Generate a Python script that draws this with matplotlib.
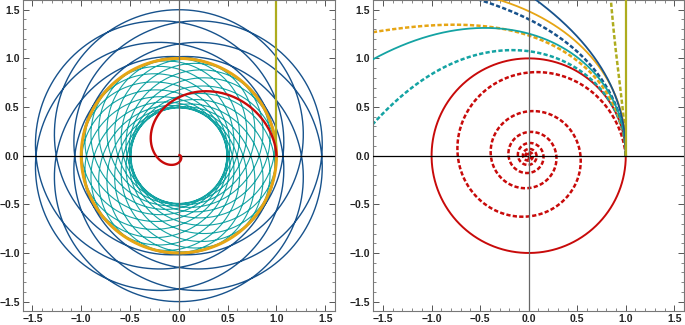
import numpy as np
import matplotlib.pyplot as plt
from matplotlib.ticker import MultipleLocator

plt.rcParams['font.family'] = ['Liberation Sans', 'DejaVu Sans']

# colours
c_blue = '#17528c'
c_orange = '#e6a514'
c_teal = '#14a3a3'
c_red = '#c80a0a'
c_olive = '#aeac1e'

# left panel: orbit parameters
# precessing conic r = p / (1 + e*cos(k*theta)), run over n revolutions
blue_orbit = dict(p=1.2, e=0.2, k=6/7, turns=7)            # r from 1.0 to 1.5
teal_orbit = dict(p=0.658, e=-0.342, k=19/20, turns=20)    # r from 1.0 down to 0.49
circle_r = 1.0
# infalling spiral r = exp(-a*theta**b)
red_spiral = dict(a=0.26, b=1.5, th_end=7.0)
olive_line_x = [1.0, 1.0]
olive_line_y = [0.0, 1.6]

# right panel: escaping paths 1/r = 1 - c*theta**n, all leaving (1, 0)
# (name, colour, c, n, dotted)
paths = [
    ('teal dotted',   c_teal,   0.0198, 2.76, True),
    ('orange dotted', c_orange, 0.0717, 2.17, True),
    ('teal',          c_teal,   0.095,  1.68, False),
    ('blue dotted',   c_blue,   0.120,  1.93, True),
    ('orange',        c_orange, 0.167,  1.486, False),
    ('blue',          c_blue,   0.183,  1.71, False),
    ('olive dotted',  c_olive,  0.378,  2.09, True),
]
red_log_spiral = dict(b=0.1, th_end=45.0)

ticks_major = [-1.5, -1.0, -0.5, 0.0, 0.5, 1.0, 1.5]
lim = 1.6

dot = (0, (1.7, 0.9))

fig = plt.figure(figsize=(6.85, 3.25), dpi=100)
ax1 = fig.add_axes([0.0331, 0.042, 0.456, 0.958])
ax2 = fig.add_axes([0.5450, 0.042, 0.4536, 0.958])


def conic(o):
    th = np.linspace(0, 2*np.pi*o['turns'], 1200*o['turns'])
    r = o['p']/(1 + o['e']*np.cos(o['k']*th))
    return r*np.cos(th), r*np.sin(th)

# ---- left
x, y = conic(blue_orbit)
ax1.plot(x, y, c=c_blue, lw=1.0, zorder=2)
x, y = conic(teal_orbit)
ax1.plot(x, y, c=c_teal, lw=0.8, zorder=2.1)
t = np.linspace(0, 2*np.pi, 400)
ax1.plot(circle_r*np.cos(t), circle_r*np.sin(t), c=c_orange, lw=2.2, zorder=2.2)
ax1.plot(olive_line_x, olive_line_y, c=c_olive, lw=1.6, zorder=2.3)
t = np.linspace(0, red_spiral['th_end'], 800)
r = np.exp(-red_spiral['a']*t**red_spiral['b'])
ax1.plot(r*np.cos(t), r*np.sin(t), c=c_red, lw=1.7, zorder=4)

# ---- right
t = np.linspace(0, 2*np.pi, 400)
ax2.plot(np.cos(t), np.sin(t), c=c_red, lw=1.4, zorder=2)
t = np.linspace(0, red_log_spiral['th_end'], 6000)
r = np.exp(-red_log_spiral['b']*t)
ax2.plot(r*np.cos(t), r*np.sin(t), c=c_red, lw=1.8, ls=dot, dash_capstyle='butt', zorder=2)
for name, col, c, n, dotted in paths:
    tmax = (0.999/c)**(1/n)
    t = np.linspace(0, tmax, 3000)
    u = 1 - c*t**n
    r = 1/u
    m = r < 4
    xs, ys = r[m]*np.cos(t[m]), r[m]*np.sin(t[m])
    if dotted:
        ax2.plot(xs, ys, c=col, lw=1.8, ls=dot, dash_capstyle='butt', zorder=2.5)
    else:
        ax2.plot(xs, ys, c=col, lw=1.3, zorder=2.6)
ax2.plot(olive_line_x, olive_line_y, c=c_olive, lw=1.6, zorder=3)

labels = [f'{v:.1f}'.replace('-', '\u2212') for v in ticks_major]
for ax in (ax1, ax2):
    ax.set_xlim(-lim, lim)
    ax.set_ylim(-lim, lim)
    ax.axhline(0, c='k', lw=0.9, zorder=3)
    ax.axvline(0, c='#666666', lw=0.9, zorder=3)
    ax.set_xticks(ticks_major)
    ax.set_yticks(ticks_major)
    ax.set_xticklabels(labels, fontweight='bold')
    ax.set_yticklabels(labels, fontweight='bold')
    ax.xaxis.set_minor_locator(MultipleLocator(0.1))
    ax.yaxis.set_minor_locator(MultipleLocator(0.1))
    ax.tick_params(which='both', direction='in', top=True, right=True,
                   color='#555555', labelsize=7.5, pad=2.2, labelcolor='#222222')
    ax.tick_params(which='major', length=4, width=0.7)
    ax.tick_params(which='minor', length=2, width=0.5)
    for s in ax.spines.values():
        s.set_color('#777777')
        s.set_linewidth(0.8)

fig.savefig('out.png', dpi=100)
